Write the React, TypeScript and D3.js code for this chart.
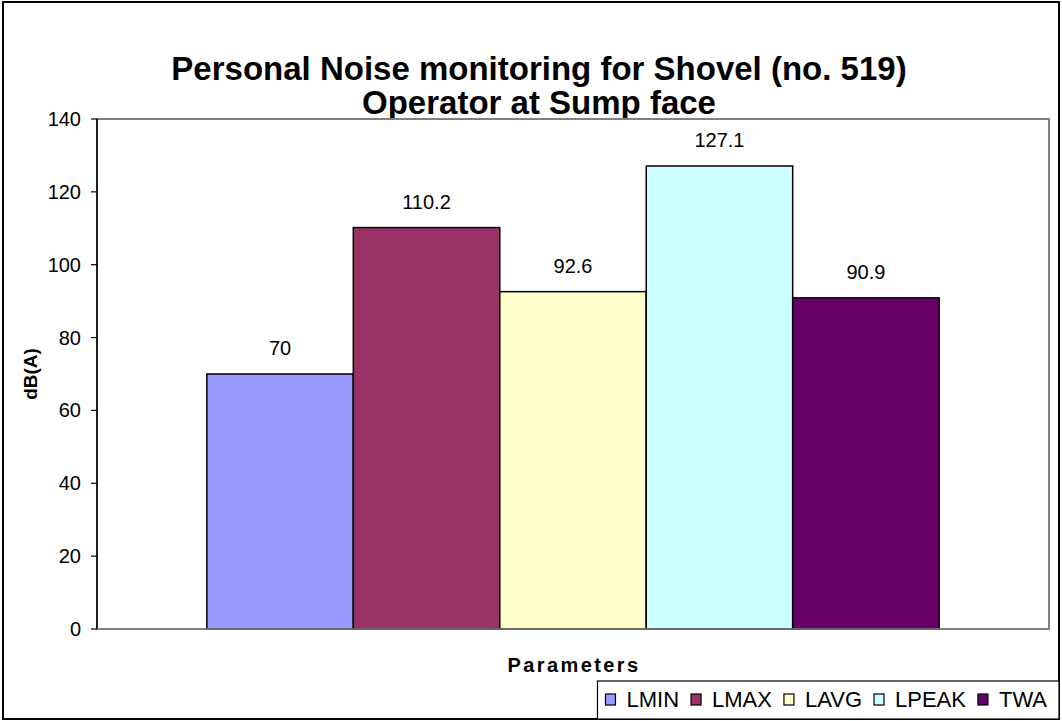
import React from "react";
import * as d3 from "d3";

const categories = ["Parameters"];
const seriesNames = ["LMIN", "LMAX", "LAVG", "LPEAK", "TWA"];
const seriesValues = [70, 110.2, 92.6, 127.1, 90.9];
const seriesLabels = ["70", "110.2", "92.6", "127.1", "90.9"];
const seriesColors = ["#9999FF", "#993366", "#FFFFCC", "#CCFFFF", "#660066"];
const yTicks = [0, 20, 40, 60, 80, 100, 120, 140];
const titleLines = ["Personal Noise monitoring for Shovel (no. 519)", "Operator at Sump face"];
const yAxisTitle = "dB(A)";

const W = 1062;
const H = 721;
const plot = { left: 97, top: 119, right: 1049, bottom: 629 };
const FONT = "'Liberation Sans', Arial, Helvetica, sans-serif";

function measure(text: string, size: number, weight = "normal"): number {
  const c = document.createElement("canvas");
  const ctx = c.getContext("2d");
  if (!ctx) return text.length * size * 0.6;
  ctx.font = `${weight} ${size}px 'Liberation Sans', Arial, sans-serif`;
  return ctx.measureText(text).width;
}

export default function App() {
  const y = d3.scaleLinear().domain([0, 140]).range([plot.bottom, plot.top]);
  const x0 = d3.scaleBand().domain(categories).range([plot.left, plot.right]);
  const totalW = x0.bandwidth();
  const barW = totalW / 6.5;
  const x1 = d3
    .scaleBand()
    .domain(seriesNames)
    .range([x0(categories[0])! + barW * 0.75, x0(categories[0])! + totalW - barW * 0.75]);

  const legendFont = 22;
  const legendRight = 1059;
  const legendY = 681;
  const legendH = 38;
  const sw = 10;
  const swGap = 11;
  const itemGap = 12;
  const padL = 8;
  const padR = 12;
  const widths = seriesNames.map((n) => measure(n, legendFont));
  const legendW =
    padL + padR + widths.reduce((a, b) => a + b, 0) + seriesNames.length * (sw + swGap) + (seriesNames.length - 1) * itemGap;
  const legendX = legendRight - legendW;
  let acc = legendX + padL;
  const legendPos = seriesNames.map((n, i) => {
    const px = acc;
    acc += sw + swGap + widths[i] + itemGap;
    return { n, c: seriesColors[i], px };
  });

  return (
    <svg
      width={W}
      height={H}
      style={{ position: "absolute", left: 0, top: 0, background: "#fff" }}
      fontFamily={FONT}
    >
      <rect x={0} y={0} width={W} height={H} fill="#fff" />
      <rect x={3} y={2} width={1056} height={717} fill="none" stroke="#000" strokeWidth={2} />
      {titleLines.map((t, i) => (
        <text
          key={i}
          x={539}
          y={80 + i * 34}
          textAnchor="middle"
          fontSize={33}
          fontWeight="bold"
          fill="#000"
        >
          {t}
        </text>
      ))}
      <rect
        x={plot.left}
        y={plot.top}
        width={plot.right - plot.left}
        height={plot.bottom - plot.top}
        fill="#fff"
        stroke="#808080"
        strokeWidth={2}
      />
      {seriesNames.map((n, i) => {
        const bx = x1(n)!;
        const by = y(seriesValues[i]);
        return (
          <g key={n}>
            <rect
              x={bx}
              y={by}
              width={x1.bandwidth()}
              height={plot.bottom - by}
              fill={seriesColors[i]}
              stroke="#000"
              strokeWidth={1.5}
            />
            <text
              x={bx + x1.bandwidth() / 2}
              y={by - 19}
              textAnchor="middle"
              fontSize={20}
              fill="#000"
            >
              {seriesLabels[i]}
            </text>
          </g>
        );
      })}
      <line x1={plot.left} y1={plot.top} x2={plot.left} y2={plot.bottom} stroke="#000" strokeWidth={1.5} />
      <line x1={plot.left} y1={plot.bottom} x2={plot.right} y2={plot.bottom} stroke="#808080" strokeWidth={1.5} />
      {yTicks.map((t) => (
        <g key={t}>
          <line x1={plot.left - 6} x2={plot.left} y1={y(t)} y2={y(t)} stroke="#000" strokeWidth={1.2} />
          <text x={plot.left - 16} y={y(t) + 7} textAnchor="end" fontSize={20} fill="#000">
            {t}
          </text>
        </g>
      ))}
      <text
        transform={`translate(37,${(plot.top + plot.bottom) / 2}) rotate(-90)`}
        textAnchor="middle"
        fontSize={19}
        fontWeight="bold"
        fill="#000"
      >
        {yAxisTitle}
      </text>
      <text
        x={(plot.left + plot.right) / 2 + 1}
        y={672}
        textAnchor="middle"
        fontSize={20}
        fontWeight="bold"
        letterSpacing={2.4}
        fill="#000"
      >
        {categories[0]}
      </text>
      <rect x={legendX} y={legendY} width={legendW} height={legendH} fill="#fff" stroke="#000" strokeWidth={1.2} />
      {legendPos.map((it) => (
        <g key={it.n}>
          <rect x={it.px} y={legendY + 13} width={sw} height={11} fill={it.c} stroke="#000" strokeWidth={1.2} />
          <text x={it.px + sw + swGap} y={legendY + 26} fontSize={legendFont} fill="#000">
            {it.n}
          </text>
        </g>
      ))}
    </svg>
  );
}
